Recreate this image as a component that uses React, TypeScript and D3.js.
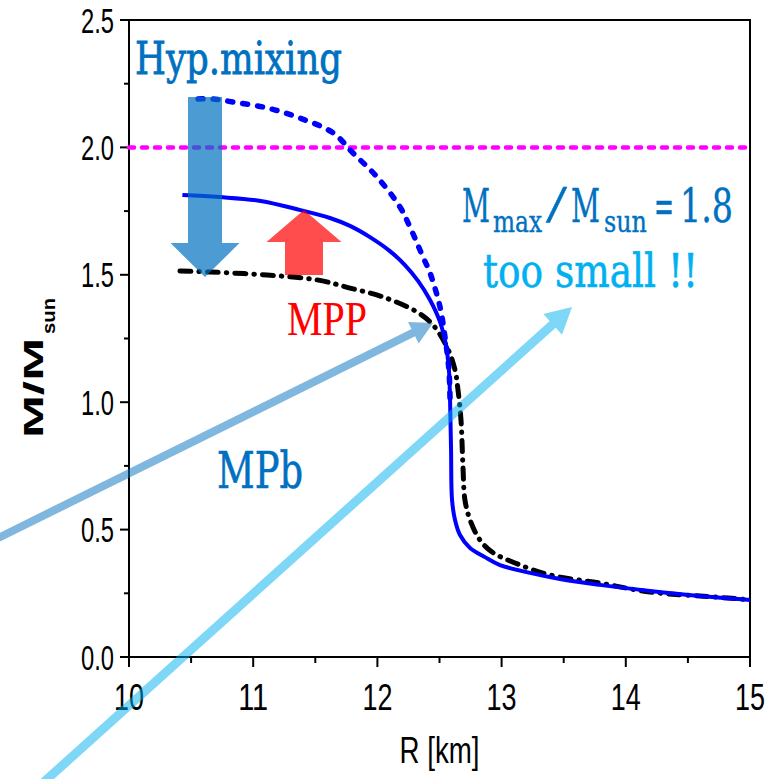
import React, { useLayoutEffect, useRef, useState } from "react";
import * as d3 from "d3";

// ---------- data ----------
const xTickValues = [10, 11, 12, 13, 14, 15];
const xMinorValues = [10.5, 11.5, 12.5, 13.5, 14.5];
const yTickValues = [0, 0.5, 1.0, 1.5, 2.0, 2.5];
const yMinorValues = [0.25, 0.75, 1.25, 1.75, 2.25];
const xTickLabels = ["10", "11", "12", "13", "14", "15"];
const yTickLabels = ["0.0", "0.5", "1.0", "1.5", "2.0", "2.5"];

// solid blue (MPb + hyperon mixing + MPP)
const solidR = [10.43, 10.73, 11.06, 11.38, 11.618, 11.779, 11.94, 12.101, 12.222, 12.327, 12.424, 12.504, 12.552, 12.576, 12.585, 12.593, 12.601, 12.625, 12.665, 12.746, 12.866, 12.987, 13.229, 13.47, 13.792, 14.195, 14.597, 15.0];
const solidM = [1.813, 1.805, 1.79, 1.754, 1.723, 1.692, 1.648, 1.593, 1.538, 1.476, 1.401, 1.315, 1.224, 1.126, 1.008, 0.812, 0.616, 0.538, 0.479, 0.428, 0.392, 0.361, 0.33, 0.306, 0.283, 0.259, 0.239, 0.224];

// dashed blue (MPb without hyperons)
const dashedR = [10.556, 10.676, 10.837, 11.111, 11.377, 11.643, 11.804, 11.997, 12.182, 12.262, 12.367, 12.424, 12.504, 12.544, 12.576, 12.585];
const dashedM = [2.19, 2.19, 2.178, 2.155, 2.115, 2.057, 1.978, 1.884, 1.766, 1.688, 1.57, 1.507, 1.374, 1.256, 1.126, 1.008];

// black dash-dot (MPb + hyperon mixing, no MPP)
const dashDotR = [10.41, 10.652, 11.111, 11.514, 11.779, 12.045, 12.319, 12.448, 12.56, 12.625, 12.649, 12.673, 12.689, 12.705, 12.746, 12.826, 12.923, 13.108, 13.39, 13.792, 14.195, 14.734, 15.0];
const dashDotM = [1.515, 1.511, 1.499, 1.48, 1.448, 1.413, 1.354, 1.303, 1.217, 1.126, 1.048, 0.93, 0.746, 0.616, 0.538, 0.459, 0.412, 0.369, 0.322, 0.29, 0.255, 0.235, 0.224];

const observedLimit = 2.0;

// annotation arrows (data coordinates)
const hypArrow = { r: 10.612, from: 2.198, to: 1.491 };
const mppArrow = { r: 11.409, from: 1.499, to: 1.754 };
const mpbArrow = { r0: 8.88, m0: 0.451, r1: 12.448, m1: 1.311 };
const smallArrow = { r0: 9.28, m0: -0.506, r1: 13.567, m1: 1.374 };

// ---------- layout ----------
const W = 779;
const H = 779;
const left = 129, right = 750, top = 20, bottom = 657;

const x = d3.scaleLinear().domain([10, 15]).range([left, right]);
const y = d3.scaleLinear().domain([0, 2.5]).range([bottom, top]);

const line = d3
  .line<[number, number]>()
  .x((d) => x(d[0]))
  .y((d) => y(d[1]))
  .curve(d3.curveCatmullRom.alpha(0.5));

const zip = (a: number[], b: number[]) => a.map((v, i) => [v, b[i]] as [number, number]);

function blockArrow(cx: number, yBase: number, yTip: number, shaftW: number, headW: number, headL: number) {
  const dir = yTip < yBase ? -1 : 1;
  const yHead = yTip - dir * headL;
  return [
    [cx - shaftW / 2, yBase],
    [cx - shaftW / 2, yHead],
    [cx - headW / 2, yHead],
    [cx, yTip],
    [cx + headW / 2, yHead],
    [cx + shaftW / 2, yHead],
    [cx + shaftW / 2, yBase],
  ]
    .map((p) => p.join(","))
    .join(" ");
}

function lineArrow(x0: number, y0: number, x1: number, y1: number, w: number, headW: number, headL: number) {
  const dx = x1 - x0, dy = y1 - y0;
  const len = Math.hypot(dx, dy);
  const ux = dx / len, uy = dy / len;
  const nx = -uy, ny = ux;
  const bx = x1 - ux * headL, by = y1 - uy * headL;
  const pts = [
    [x0 + nx * w / 2, y0 + ny * w / 2],
    [bx + nx * w / 2, by + ny * w / 2],
    [bx + nx * headW / 2, by + ny * headW / 2],
    [x1, y1],
    [bx - nx * headW / 2, by - ny * headW / 2],
    [bx - nx * w / 2, by - ny * w / 2],
    [x0 - nx * w / 2, y0 - ny * w / 2],
  ];
  return pts.map((p) => p.join(",")).join(" ");
}

const tickFont = "'Liberation Sans Narrow', 'Liberation Sans', Arial, sans-serif";
const serif = "'DejaVu Serif', 'Liberation Serif', serif";
const serif2 = "'Liberation Serif', 'Times New Roman', serif";

// text squeezed horizontally to an exact width via a measured scale transform
function FitText(props: {
  x: number;
  y: number;
  width: number;
  fontSize: number;
  fontFamily: string;
  fill: string;
  strokeWidth?: number;
  children: string;
}) {
  const ref = useRef<SVGTextElement>(null);
  const [sx, setSx] = useState(1);
  useLayoutEffect(() => {
    if (ref.current) {
      const len = ref.current.getComputedTextLength();
      if (len > 0) setSx(props.width / len);
    }
  }, [props.width, props.children, props.fontSize, props.fontFamily]);
  return (
    <text
      ref={ref}
      transform={`translate(${props.x},${props.y}) scale(${sx},1)`}
      fontFamily={props.fontFamily}
      fontSize={props.fontSize}
      fill={props.fill}
      stroke={props.strokeWidth ? props.fill : undefined}
      strokeWidth={props.strokeWidth}
    >
      {props.children}
    </text>
  );
}

export default function App() {
  const blue = "#0070c0";
  return (
    <svg
      width={W}
      height={H}
      viewBox={`0 0 ${W} ${H}`}
      style={{ position: "absolute", left: 0, top: 0, background: "#fff" }}
    >
      <rect x={0} y={0} width={W} height={H} fill="#fff" />

      {/* frame */}
      <rect x={left} y={top} width={right - left} height={bottom - top} fill="none" stroke="#000" strokeWidth={2} />

      {/* y ticks */}
      {yTickValues.map((v, i) => (
        <g key={"yt" + i}>
          <line x1={left - 9} x2={left} y1={y(v)} y2={y(v)} stroke="#000" strokeWidth={2} />
          <text
            x={114}
            y={y(v) + 12.5}
            textAnchor="end"
            fontFamily={tickFont}
            fontSize={35}
            textLength={33}
            lengthAdjust="spacingAndGlyphs"
            fill="#000"
          >
            {yTickLabels[i]}
          </text>
        </g>
      ))}
      {yMinorValues.map((v, i) => (
        <line key={"ym" + i} x1={left - 5} x2={left} y1={y(v)} y2={y(v)} stroke="#000" strokeWidth={2} />
      ))}

      {/* x ticks */}
      {xTickValues.map((v, i) => (
        <g key={"xt" + i}>
          <line x1={x(v)} x2={x(v)} y1={bottom} y2={bottom + 10} stroke="#000" strokeWidth={2} />
          <text
            x={x(v)}
            y={710}
            textAnchor="middle"
            fontFamily={tickFont}
            fontSize={37}
            textLength={30}
            lengthAdjust="spacingAndGlyphs"
            fill="#000"
          >
            {xTickLabels[i]}
          </text>
        </g>
      ))}
      {xMinorValues.map((v, i) => (
        <line key={"xm" + i} x1={x(v)} x2={x(v)} y1={bottom} y2={bottom + 6} stroke="#000" strokeWidth={2} />
      ))}

      {/* axis titles */}
      <text
        x={(left + right) / 2}
        y={763}
        textAnchor="middle"
        fontFamily={tickFont}
        fontSize={36}
        textLength={80}
        lengthAdjust="spacingAndGlyphs"
        fill="#000"
      >
        R [km]
      </text>
      <g transform="translate(43,438) rotate(-90)">
        <text x={0} y={0} fontFamily="'Liberation Sans', Arial, sans-serif" fontWeight="bold" fontSize={28} fill="#000">
          <tspan x={0} textLength={100} lengthAdjust="spacingAndGlyphs">M/M</tspan>
          <tspan x={104} dy={12} fontSize={19} textLength={36} lengthAdjust="spacingAndGlyphs">sun</tspan>
        </text>
      </g>

      {/* 2 Msun line */}
      <line
        x1={x(10)}
        x2={x(15)}
        y1={y(observedLimit)}
        y2={y(observedLimit)}
        stroke="#ff00ff"
        strokeWidth={4.5}
        strokeDasharray="5,8"
        strokeLinecap="round"
      />

      {/* curves */}
      <path d={line(zip(dashDotR, dashDotM)) || ""} fill="none" stroke="#000" strokeWidth={5} strokeDasharray="11,8,0.5,8" strokeLinecap="round" />
      <path d={line(zip(dashedR, dashedM)) || ""} fill="none" stroke="#0000ff" strokeWidth={5.5} strokeDasharray="5,10" strokeLinecap="round" />
      <path d={line(zip(solidR, solidM)) || ""} fill="none" stroke="#0000ff" strokeWidth={4} />

      {/* arrows */}
      <polygon points={blockArrow(x(hypArrow.r), y(hypArrow.from), y(hypArrow.to), 34, 69, 34)} fill={blue} fillOpacity={0.7} />
      <polygon points={blockArrow(x(mppArrow.r), y(mppArrow.from), y(mppArrow.to), 38, 75, 32)} fill="#ff0000" fillOpacity={0.7} />
      <polygon
        points={lineArrow(x(mpbArrow.r0), y(mpbArrow.m0), x(mpbArrow.r1), y(mpbArrow.m1), 8, 24, 22)}
        fill={blue}
        fillOpacity={0.5}
      />
      <polygon
        points={lineArrow(x(smallArrow.r0), y(smallArrow.m0), x(smallArrow.r1), y(smallArrow.m1), 9, 28, 26)}
        fill="#00b0f0"
        fillOpacity={0.5}
      />

      {/* annotations */}
      <text x={135} y={74} fontFamily={serif} fontSize={44} textLength={207} lengthAdjust="spacingAndGlyphs" fill={blue} stroke={blue} strokeWidth={0.8}>
        Hyp.mixing
      </text>
      <text x={287} y={335} fontFamily={serif2} fontSize={48} textLength={80} lengthAdjust="spacingAndGlyphs" fill="#ff0000">
        MPP
      </text>
      <text x={217} y={488} fontFamily={serif} fontSize={50} textLength={86} lengthAdjust="spacingAndGlyphs" fill={blue} stroke={blue} strokeWidth={0.6}>
        MPb
      </text>

      <FitText x={462} y={222} width={28} fontSize={46} fontFamily={serif} fill={blue} strokeWidth={0.4}>M</FitText>
      <FitText x={493} y={232} width={49} fontSize={30} fontFamily={serif} fill={blue} strokeWidth={0.4}>max</FitText>
      <FitText x={546} y={222} width={21} fontSize={52} fontFamily={serif2} fill={blue} strokeWidth={0.4}>/</FitText>
      <FitText x={571} y={222} width={29} fontSize={46} fontFamily={serif} fill={blue} strokeWidth={0.4}>M</FitText>
      <FitText x={604} y={232} width={43} fontSize={30} fontFamily={serif} fill={blue} strokeWidth={0.4}>sun</FitText>
      <FitText x={654} y={222} width={20} fontSize={46} fontFamily={serif} fill={blue} strokeWidth={0.4}>=</FitText>
      <FitText x={680} y={222} width={53} fontSize={46} fontFamily={serif} fill={blue} strokeWidth={0.4}>1.8</FitText>

      <text x={483} y={287} fontFamily={serif} fontSize={46} textLength={215} lengthAdjust="spacingAndGlyphs" fill="#00b0f0" stroke="#00b0f0" strokeWidth={0.6}>
        too small !!
      </text>
    </svg>
  );
}
